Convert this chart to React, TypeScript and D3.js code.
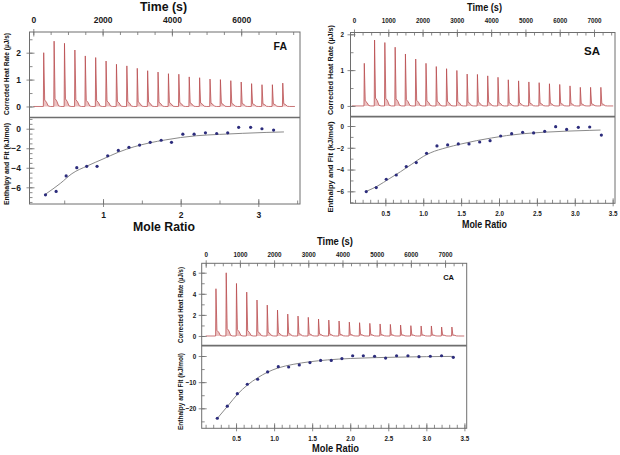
import * as d3 from 'd3';
import React, { useEffect, useRef } from 'react';

// injection times (s), same schedule for all three runs
const INJECTION_TIMES = [300, 600, 900, 1200, 1500, 1800, 2100, 2400, 2700, 3000, 3300, 3600,
  3900, 4200, 4500, 4800, 5100, 5400, 5700, 6000, 6300, 6600, 6900, 7200];

// peak heights of the corrected heat rate (µJ/s), one per injection
const FA_PEAKS = [2.0, 2.43, 2.35, 2.1, 1.88, 1.82, 1.69, 1.57, 1.51, 1.42, 1.33, 1.28,
  1.22, 1.2, 1.1, 1.07, 1.02, 1.0, 0.96, 0.91, 0.85, 0.81, 0.81, 0.87];
const SA_PEAKS = [1.19, 1.84, 1.77, 1.64, 1.45, 1.31, 1.19, 1.1, 1.04, 0.99, 0.89, 0.88,
  0.84, 0.8, 0.73, 0.7, 0.67, 0.65, 0.62, 0.6, 0.56, 0.52, 0.52, 0.52];
const CA_PEAKS = [4.48, 5.99, 4.98, 4.16, 3.41, 2.93, 2.46, 2.08, 1.89, 1.77, 1.61, 1.51,
  1.42, 1.32, 1.26, 1.2, 1.14, 1.1, 1.04, 0.98, 0.95, 0.95, 0.85, 0.85];

// integrated heats (kJ/mol) against mole ratio
const FA_RATIO = [0.259, 0.396, 0.525, 0.662, 0.79, 0.923, 1.06, 1.197, 1.334, 1.471, 1.608,
  1.749, 1.882, 2.028, 2.173, 2.319, 2.464, 2.606, 2.747, 2.901, 3.047, 3.197];
const FA_ENTHALPY = [-6.77, -6.42, -4.83, -3.99, -3.85, -3.85, -2.78, -2.22, -1.91, -1.67, -1.39,
  -1.18, -1.39, -0.56, -0.56, -0.42, -0.49, -0.42, 0.14, 0.14, 0.0, -0.14];
const FA_FIT_RATIO = [0.26, 0.45, 0.6, 0.8, 1.0, 1.2, 1.4, 1.6, 1.8, 2.0, 2.2, 2.5, 2.8, 3.1, 3.33];
const FA_FIT = [-6.7, -5.6, -4.6, -3.8, -3.1, -2.4, -1.85, -1.45, -1.15, -0.9, -0.72, -0.58, -0.47, -0.38, -0.33];

const SA_RATIO = [0.248, 0.38, 0.512, 0.644, 0.776, 0.908, 1.044, 1.181, 1.322, 1.463, 1.604, 1.745,
  1.882, 2.022, 2.167, 2.312, 2.457, 2.603, 2.748, 2.893, 3.047, 3.197, 3.351];
const SA_ENTHALPY = [-6.02, -5.66, -4.89, -4.5, -3.73, -3.36, -2.51, -1.83, -1.74, -1.65, -1.65, -1.47,
  -1.35, -0.92, -0.7, -0.58, -0.64, -0.49, -0.06, -0.31, -0.12, -0.09, -0.83];
const SA_FIT_RATIO = [0.25, 0.4, 0.55, 0.7, 0.85, 1.0, 1.1, 1.3, 1.5, 1.7, 1.9, 2.1, 2.3, 2.6, 2.9, 3.2, 3.34];
const SA_FIT = [-6.0, -5.5, -4.85, -4.2, -3.5, -2.8, -2.45, -2.0, -1.65, -1.35, -1.1, -0.88, -0.72, -0.57, -0.47, -0.4, -0.37];

const CA_RATIO = [0.254, 0.385, 0.517, 0.648, 0.784, 0.915, 1.055, 1.191, 1.331, 1.471, 1.611, 1.751,
  1.891, 2.032, 2.172, 2.32, 2.465, 2.609, 2.758, 2.903, 3.052, 3.2, 3.354];
const CA_ENTHALPY = [-23.8, -19.2, -14.4, -10.8, -8.9, -6.1, -4.1, -4.2, -3.4, -2.5, -1.7, -1.7,
  -1.0, 0.1, 0.1, -0.1, -0.8, 0.1, 0.1, -0.25, -0.1, 0.1, -0.5];
const CA_FIT_RATIO = [0.25, 0.4, 0.52, 0.65, 0.78, 0.92, 1.05, 1.25, 1.47, 1.7, 2.0, 2.3, 2.6, 3.0, 3.35];
const CA_FIT = [-24.0, -18.8, -14.6, -11.1, -8.4, -6.1, -4.6, -3.2, -2.2, -1.5, -0.95, -0.65, -0.45, -0.25, -0.15];

const TIME_LABEL = 'Time (s)';
const RATIO_LABEL = 'Mole Ratio';
const HEAT_LABEL = 'Corrected Heat Rate (µJ/s)';
const ENTH_LABEL = 'Enthalpy and Fit (kJ/mol)';

const FONT = '"Liberation Sans", Arial, sans-serif';
const FRAME = '#6e6e6e';

interface TextSpot { x: number; y: number; size: number; len: number }

interface Panel {
  tag: string;
  peaks: number[];
  ratio: number[];
  enthalpy: number[];
  fitRatio: number[];
  fit: number[];
  box: { left: number; right: number; top: number; mid: number; bottom: number };
  timeDomain: [number, number];
  heatDomain: [number, number];
  enthDomain: [number, number];
  ratioDomain: [number, number];
  trace: [number, number];
  steps: { time: [number, number]; heat: [number, number]; enth: [number, number]; ratio: [number, number] };
  ratioFmt: string;
  tickSize: number;
  squash: number; // horizontal squeeze of tick labels (narrow face in the original)
  gaps: { top: number; left: number; bottom: number };
  timeTitle: TextSpot;
  ratioTitle: TextSpot;
  yLabel: { x: number; upper: number; lower: number; size: number; upperLen: number; lowerLen: number };
  tagPos: { x: number; y: number; size: number };
}

const PANELS: Panel[] = [
  {
    tag: 'FA', peaks: FA_PEAKS, ratio: FA_RATIO, enthalpy: FA_ENTHALPY, fitRatio: FA_FIT_RATIO, fit: FA_FIT,
    box: { left: 29.5, right: 300, top: 32, mid: 117.5, bottom: 204 },
    timeDomain: [-110, 7697], heatDomain: [-0.41, 2.77], enthDomain: [-7.71, 1.15], ratioDomain: [0.053, 3.537],
    trace: [0, 7550],
    steps: { time: [500, 2000], heat: [0.5, 1], enth: [0.5, 2], ratio: [0.5, 1] },
    ratioFmt: 'd', tickSize: 8.5, squash: 1,
    gaps: { top: 9, left: 8.6, bottom: 13.5 },
    timeTitle: { x: 163.5, y: 11, size: 12.5, len: 47 },
    ratioTitle: { x: 164, y: 231, size: 12, len: 62 },
    yLabel: { x: 8.5, upper: 74, lower: 164, size: 7.6, upperLen: 82, lowerLen: 82 },
    tagPos: { x: 287, y: 50, size: 10.5 },
  },
  {
    tag: 'SA', peaks: SA_PEAKS, ratio: SA_RATIO, enthalpy: SA_ENTHALPY, fitRatio: SA_FIT_RATIO, fit: SA_FIT,
    box: { left: 350.5, right: 615, top: 32.5, mid: 116.7, bottom: 203.3 },
    timeDomain: [-102, 7612], heatDomain: [-0.3, 2.05], enthDomain: [-7.1, 0.855], ratioDomain: [0.04, 3.531],
    trace: [-60, 7560],
    steps: { time: [250, 1000], heat: [0.5, 1], enth: [1, 2], ratio: [0.1, 0.5] },
    ratioFmt: '.1f', tickSize: 7.5, squash: 0.84,
    gaps: { top: 10, left: 6.5, bottom: 12.7 },
    timeTitle: { x: 484.5, y: 11, size: 11, len: 35 },
    ratioTitle: { x: 484.5, y: 228, size: 11.5, len: 45 },
    yLabel: { x: 333, upper: 70, lower: 167, size: 8, upperLen: 90, lowerLen: 91 },
    tagPos: { x: 600, y: 55, size: 11.5 },
  },
  {
    tag: 'CA', peaks: CA_PEAKS, ratio: CA_RATIO, enthalpy: CA_ENTHALPY, fitRatio: CA_FIT_RATIO, fit: CA_FIT,
    box: { left: 201.7, right: 466.7, top: 263.3, mid: 345.7, bottom: 428.3 },
    timeDomain: [-117, 7633], heatDomain: [-0.92, 6.89], enthDomain: [-27.65, 3.94], ratioDomain: [0.049, 3.53],
    trace: [0, 7560],
    steps: { time: [250, 1000], heat: [1, 2], enth: [5, 10], ratio: [0.1, 0.5] },
    ratioFmt: '.1f', tickSize: 7.5, squash: 0.84,
    gaps: { top: 6, left: 5.5, bottom: 12.7 },
    timeTitle: { x: 335, y: 245, size: 11, len: 36 },
    ratioTitle: { x: 335.5, y: 452, size: 11.5, len: 47 },
    yLabel: { x: 182.5, upper: 305, lower: 391.5, size: 7.6, upperLen: 76, lowerLen: 77 },
    tagPos: { x: 454, y: 280, size: 7.5 },
  },
];

// multiples of step that fall inside the domain
const stepsIn = (domain: [number, number], step: number) => {
  const lo = Math.ceil(domain[0] / step - 1e-9);
  const hi = Math.floor(domain[1] / step + 1e-9);
  return d3.range(lo, hi + 1).map(k => +(k * step).toFixed(4));
};

const styleAxis = (sel: any, p: Panel) => {
  sel.select('.domain').remove();
  sel.attr('font-family', null).attr('font-size', null);
  sel.selectAll('line').attr('stroke', FRAME).attr('stroke-width', 0.8);
  sel.selectAll('text')
    .attr('font-family', FONT)
    .attr('font-size', p.tickSize)
    .attr('font-weight', 'bold')
    .attr('fill', '#1a1a1a')
    .attr('transform', p.squash !== 1 ? `scale(${p.squash},1)` : null);
};

function drawPanel(root: any, p: Panel) {
  const { left, right, top, mid, bottom } = p.box;
  const g = root.append('g');

  const x = d3.scaleLinear().domain(p.timeDomain).range([left, right]);
  const yHeat = d3.scaleLinear().domain(p.heatDomain).range([mid, top]);
  const r = d3.scaleLinear().domain(p.ratioDomain).range([left, right]);
  const yEnth = d3.scaleLinear().domain(p.enthDomain).range([bottom, mid]);

  // thermogram: each injection drawn as a sharp spike decaying back to baseline
  const trace: [number, number][] = [[p.trace[0], 0]];
  INJECTION_TIMES.forEach((t, i) => {
    const h = p.peaks[i];
    trace.push([t - 10, 0], [t, h], [t + 28, h * 0.12], [t + 80, h * 0.08], [t + 130, h * 0.01], [t + 190, 0]);
  });
  trace.push([p.trace[1], 0]);

  g.append('path')
    .datum(trace)
    .attr('fill', '#ecc2c2')
    .attr('d', d3.area<[number, number]>().x(d => x(d[0])).y0(yHeat(0)).y1(d => yHeat(d[1])));
  g.append('path')
    .datum(trace)
    .attr('fill', 'none')
    .attr('stroke', '#b7474a')
    .attr('stroke-width', 0.75)
    .attr('d', d3.line<[number, number]>().x(d => x(d[0])).y(d => yHeat(d[1])));

  // fit curve and integrated heats
  const fitPts = p.fitRatio.map((v, i) => [v, p.fit[i]] as [number, number]);
  g.append('path')
    .datum(fitPts)
    .attr('fill', 'none')
    .attr('stroke', '#8a8a8a')
    .attr('stroke-width', 1)
    .attr('d', d3.line<[number, number]>().x(d => r(d[0])).y(d => yEnth(d[1])).curve(d3.curveMonotoneX));

  g.selectAll('.dot')
    .data(p.ratio)
    .enter().append('circle')
    .attr('cx', (d: number) => r(d))
    .attr('cy', (_: number, i: number) => yEnth(p.enthalpy[i]))
    .attr('r', 1.6)
    .attr('fill', '#2c2c7c');

  // frames
  g.append('rect')
    .attr('x', left).attr('y', top)
    .attr('width', right - left).attr('height', bottom - top)
    .attr('fill', 'none').attr('stroke', FRAME).attr('stroke-width', 1);
  g.append('line')
    .attr('x1', left).attr('x2', right).attr('y1', mid).attr('y2', mid)
    .attr('stroke', FRAME).attr('stroke-width', 1.7);

  // top time axis
  g.append('g').attr('transform', `translate(0,${top})`)
    .call(d3.axisTop(x).tickValues(stepsIn(p.timeDomain, p.steps.time[0])).tickSize(-3).tickFormat(() => ''))
    .call((s: any) => styleAxis(s, p));
  const timeMajor = g.append('g').attr('transform', `translate(0,${top})`)
    .call(d3.axisTop(x).tickValues(stepsIn(p.timeDomain, p.steps.time[1])).tickSize(3).tickFormat(d3.format('d')))
    .call((s: any) => styleAxis(s, p));
  timeMajor.selectAll('.tick line').attr('y1', 4.5);
  timeMajor.selectAll('.tick text').attr('y', -p.gaps.top).attr('dy', 0);

  // left axes
  const leftAxis = (scale: any, domain: [number, number], [minor, major]: [number, number]) => {
    g.append('g').attr('transform', `translate(${left},0)`)
      .call(d3.axisLeft(scale).tickValues(stepsIn(domain, minor)).tickSize(-3).tickFormat(() => ''))
      .call((s: any) => styleAxis(s, p));
    const maj = g.append('g').attr('transform', `translate(${left},0)`)
      .call(d3.axisLeft(scale).tickValues(stepsIn(domain, major)).tickSize(3).tickFormat(d3.format('d')))
      .call((s: any) => styleAxis(s, p));
    maj.selectAll('.tick line').attr('x1', 5);
    maj.selectAll('.tick text').attr('x', -p.gaps.left / p.squash);
  };
  leftAxis(yHeat, p.heatDomain, p.steps.heat);
  leftAxis(yEnth, p.enthDomain, p.steps.enth);

  // bottom ratio axis
  g.append('g').attr('transform', `translate(0,${bottom})`)
    .call(d3.axisBottom(r).tickValues(stepsIn(p.ratioDomain, p.steps.ratio[0])).tickSize(-3.5).tickFormat(() => ''))
    .call((s: any) => styleAxis(s, p));
  const ratioMajor = g.append('g').attr('transform', `translate(0,${bottom})`)
    .call(d3.axisBottom(r).tickValues(stepsIn(p.ratioDomain, p.steps.ratio[1])).tickSize(3).tickFormat(d3.format(p.ratioFmt)))
    .call((s: any) => styleAxis(s, p));
  ratioMajor.selectAll('.tick line').attr('y1', -5);
  ratioMajor.selectAll('.tick text').attr('y', p.gaps.bottom).attr('dy', 0);

  // titles, squeezed to the widths of the original narrow face
  const title = (spot: TextSpot, label: string) =>
    g.append('text')
      .attr('x', spot.x - spot.len / 2).attr('y', spot.y)
      .attr('font-family', FONT)
      .attr('font-size', spot.size)
      .attr('font-weight', 'bold')
      .attr('fill', '#111')
      .attr('textLength', spot.len)
      .attr('lengthAdjust', 'spacingAndGlyphs')
      .text(label);

  title(p.timeTitle, TIME_LABEL);
  title(p.ratioTitle, RATIO_LABEL);

  g.append('text')
    .attr('x', p.tagPos.x).attr('y', p.tagPos.y)
    .attr('text-anchor', 'end')
    .attr('font-family', FONT)
    .attr('font-size', p.tagPos.size)
    .attr('font-weight', 'bold')
    .attr('fill', '#111')
    .text(p.tag);

  const yLabels: [string, number, number][] = [
    [HEAT_LABEL, p.yLabel.upper, p.yLabel.upperLen],
    [ENTH_LABEL, p.yLabel.lower, p.yLabel.lowerLen],
  ];
  yLabels.forEach(([label, cy, len]) => {
    g.append('text')
      .attr('transform', `translate(${p.yLabel.x},${cy}) rotate(-90)`)
      .attr('x', -len / 2)
      .attr('font-family', FONT)
      .attr('font-size', p.yLabel.size)
      .attr('font-weight', 'bold')
      .attr('fill', '#111')
      .attr('textLength', len)
      .attr('lengthAdjust', 'spacingAndGlyphs')
      .text(label);
  });
}

const App: React.FC = () => {
  const svgRef = useRef<SVGSVGElement>(null);

  useEffect(() => {
    if (!svgRef.current) { return; }
    const svg = d3.select(svgRef.current);
    svg.selectAll('*').remove();
    PANELS.forEach(p => drawPanel(svg, p));
  }, []);

  return (
    <svg
      ref={svgRef}
      width={620}
      height={455}
      style={{ position: 'absolute', left: 0, top: 0, background: '#fff' }}
    />
  );
};

export default App;
